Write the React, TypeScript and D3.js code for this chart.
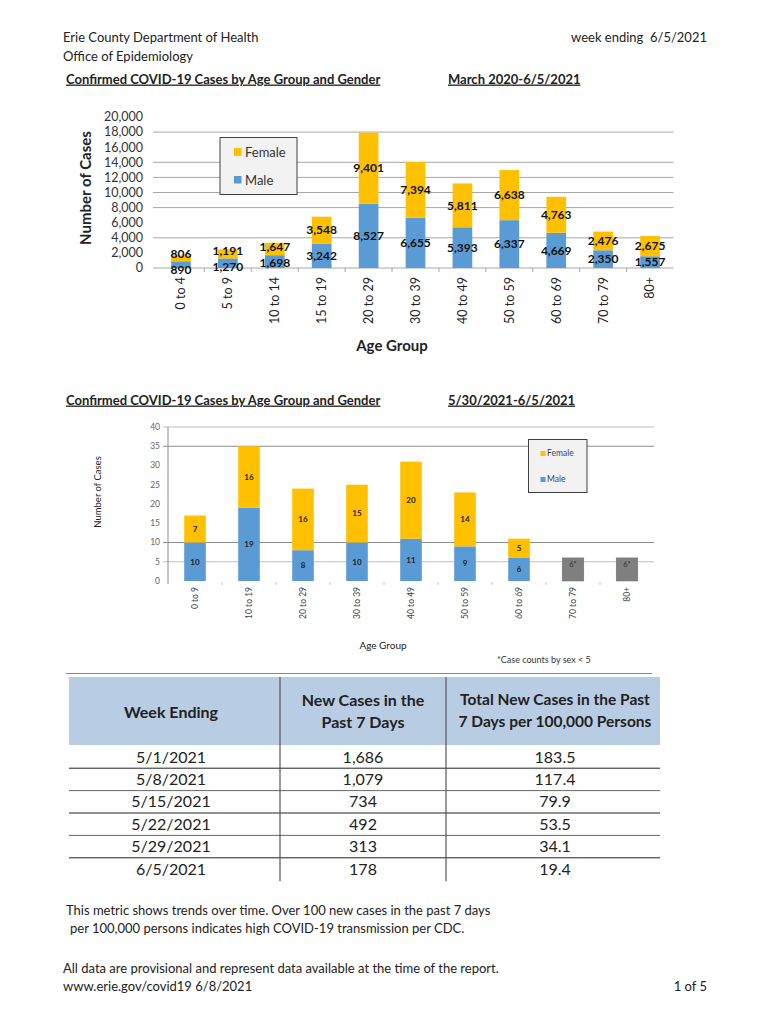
import React from 'react';
import * as d3 from 'd3';

// ---------- Data ----------
const ageGroupsAll = ['0 to 4', '5 to 9', '10 to 14', '15 to 19', '20 to 29', '30 to 39', '40 to 49', '50 to 59', '60 to 69', '70 to 79', '80+'];
const maleAll = [890, 1270, 1698, 3242, 8527, 6655, 5393, 6337, 4669, 2350, 1557];
const femaleAll = [806, 1191, 1647, 3548, 9401, 7394, 5811, 6638, 4763, 2476, 2675];
const yTicksAll = [0, 2000, 4000, 6000, 8000, 10000, 12000, 14000, 16000, 18000, 20000];
const gridAll = [4000, 8000, 10000, 12000, 14000, 18000];

const ageGroupsWeek = ['0 to 9', '10 to 19', '20 to 29', '30 to 39', '40 to 49', '50 to 59', '60 to 69', '70 to 79', '80+'];
const maleWeek = [10, 19, 8, 10, 11, 9, 6, null, null];
const femaleWeek = [7, 16, 16, 15, 20, 14, 5, null, null];
const suppressedWeek = [null, null, null, null, null, null, null, 6, 6];
const yTicksWeek = [0, 5, 10, 15, 20, 25, 30, 35, 40];
const gridWeek = [5, 10, 35, 40];

const weekEnding = ['5/1/2021', '5/8/2021', '5/15/2021', '5/22/2021', '5/29/2021', '6/5/2021'];
const newCases = ['1,686', '1,079', '734', '492', '313', '178'];
const ratePer100k = ['183.5', '117.4', '79.9', '53.5', '34.1', '19.4'];

const FEMALE = '#FFC000';
const MALE = '#5B9BD5';
const GRAY = '#7F7F7F';
const FONT = 'Lato, "Open Sans", "Liberation Sans", sans-serif';
const fmt = d3.format(',');

function TopChart() {
  const x = d3.scaleBand<string>().domain(ageGroupsAll).range([157.5, 673.5]).paddingInner(0.58).paddingOuter(0.29);
  const y = d3.scaleLinear().domain([0, 20000]).range([268, 117]);
  const bw = x.bandwidth();
  const step = x.step();
  return (
    <g>
      {gridAll.map((g) => (
        <line key={'g' + g} x1={153} x2={673.5} y1={y(g)} y2={y(g)} stroke="#A6A6A6" strokeWidth={1} />
      ))}
      <line x1={153} x2={673.5} y1={y(0)} y2={y(0)} stroke="#A6A6A6" strokeWidth={1} />
      {ageGroupsAll.slice(1).map((a) => (
        <line key={'t' + a} x1={x(a)! - (step - bw) / 2} x2={x(a)! - (step - bw) / 2} y1={y(0)} y2={y(0) + 4} stroke="#A6A6A6" />
      ))}
      {yTicksAll.map((t) => (
        <text key={'yt' + t} x={143} y={y(t)} dy="0.35em" textAnchor="end" fontSize={12.5} fill="#333" fontFamily={FONT}>
          {fmt(t)}
        </text>
      ))}
      {ageGroupsAll.map((a, i) => {
        const x0 = x(a)!;
        const m = maleAll[i];
        const f = femaleAll[i];
        let yM = (y(0) + y(m)) / 2;
        let yF = (y(m) + y(m + f)) / 2;
        if (yM - yF < 16) {
          const mid = (yM + yF) / 2;
          yM = mid + 8;
          yF = mid - 8;
        }
        const cx = x0 + bw / 2;
        return (
          <g key={a}>
            <rect x={x0} y={y(m)} width={bw} height={y(0) - y(m)} fill={MALE} />
            <rect x={x0} y={y(m + f)} width={bw} height={y(m) - y(m + f)} fill={FEMALE} />
            <text x={cx} y={yF} dy="0.35em" textAnchor="middle" fontSize={12} fontWeight="bold" fill="#111" fontFamily={FONT}>{fmt(f)}</text>
            <text x={cx} y={yM} dy="0.35em" textAnchor="middle" fontSize={12} fontWeight="bold" fill="#111" fontFamily={FONT}>{fmt(m)}</text>
            <text transform={`translate(${cx},${277}) rotate(-90)`} dy="0.35em" textAnchor="end" fontSize={12.5} fill="#222" fontFamily={FONT}>{a}</text>
          </g>
        );
      })}
      <text transform="translate(86,188) rotate(-90)" textAnchor="middle" dy="0.35em" fontSize={15} fontWeight="bold" fill="#222" fontFamily={FONT}>Number of Cases</text>
      <text x={392} y={346} dy="0.35em" textAnchor="middle" fontSize={15} fontWeight="bold" fill="#222" fontFamily={FONT}>Age Group</text>
      <rect x={220} y={137.5} width={77} height={57} fill="#F2F2F2" stroke="#404040" strokeWidth={1} />
      <rect x={234} y={148} width={7.5} height={8} fill={FEMALE} />
      <text x={245} y={152} dy="0.35em" fontSize={13} fill="#333" fontFamily={FONT}>Female</text>
      <rect x={234} y={176} width={7.5} height={7.5} fill={MALE} />
      <text x={245} y={180} dy="0.35em" fontSize={13} fill="#333" fontFamily={FONT}>Male</text>
    </g>
  );
}

function WeekChart() {
  const x = d3.scaleBand<string>().domain(ageGroupsWeek).range([168, 654]).paddingInner(0.6).paddingOuter(0.3);
  const y = d3.scaleLinear().domain([0, 40]).range([581, 427]);
  const bw = x.bandwidth();
  const step = x.step();
  return (
    <g>
      {gridWeek.map((g) => (
        <line key={'g' + g} x1={163} x2={654} y1={y(g)} y2={y(g)} stroke={g === 40 || g === 5 ? '#BFBFBF' : '#8C8C8C'} strokeWidth={1} />
      ))}
      <line x1={168} x2={168} y1={427} y2={584} stroke="#8C8C8C" />
      {ageGroupsWeek.slice(1).map((a) => (
        <line key={'t' + a} x1={x(a)! - (step - bw) / 2} x2={x(a)! - (step - bw) / 2} y1={y(0) + 1} y2={y(0) + 4} stroke="#BFBFBF" />
      ))}
      {yTicksWeek.map((t) => (
        <text key={'yt' + t} x={160} y={y(t)} dy="0.35em" textAnchor="end" fontSize={8.5} fill="#666" fontFamily={FONT}>{t}</text>
      ))}
      {ageGroupsWeek.map((a, i) => {
        const x0 = x(a)!;
        const cx = x0 + bw / 2;
        const m = maleWeek[i];
        const f = femaleWeek[i];
        const s = suppressedWeek[i];
        return (
          <g key={a}>
            {m != null && f != null && (
              <>
                <rect x={x0} y={y(m)} width={bw} height={y(0) - y(m)} fill={MALE} />
                <rect x={x0} y={y(m + f)} width={bw} height={y(m) - y(m + f)} fill={FEMALE} />
                <text x={cx} y={(y(m) + y(m + f)) / 2} dy="0.35em" textAnchor="middle" fontSize={8} fontWeight="bold" fill="#222" fontFamily={FONT}>{f}</text>
                <text x={cx} y={(y(0) + y(m)) / 2} dy="0.35em" textAnchor="middle" fontSize={8} fontWeight="bold" fill="#222" fontFamily={FONT}>{m}</text>
              </>
            )}
            {s != null && (
              <>
                <rect x={x0} y={y(s)} width={bw} height={y(0) - y(s)} fill={GRAY} stroke="#6F6F6F" strokeWidth={0.5} />
                <text x={cx} y={(y(0) + y(s)) / 2 - 5} dy="0.35em" textAnchor="middle" fontSize={7.5} fill="#333" fontFamily={FONT}>{s + '*'}</text>
              </>
            )}
            <text transform={`translate(${cx},${587}) rotate(-90)`} dy="0.35em" textAnchor="end" fontSize={8.5} fill="#444" fontFamily={FONT}>{a}</text>
          </g>
        );
      })}
      <text transform="translate(98,492) rotate(-90)" textAnchor="middle" dy="0.35em" fontSize={9.5} fill="#222" fontFamily={FONT}>Number of Cases</text>
      <text x={383} y={645} dy="0.35em" textAnchor="middle" fontSize={10} fill="#222" fontFamily={FONT}>Age Group</text>
      <rect x={528.5} y={439.5} width={58.5} height={53} fill="#F2F2F2" stroke="#404040" strokeWidth={1} />
      <rect x={540.5} y={451} width={5} height={5} fill={FEMALE} />
      <text x={547} y={453.5} dy="0.35em" fontSize={8.5} fill="#444" fontFamily={FONT}>Female</text>
      <rect x={540.5} y={477} width={5} height={5} fill={MALE} />
      <text x={547} y={479.5} dy="0.35em" fontSize={8.5} fill="#444" fontFamily={FONT}>Male</text>
      <text x={497} y={660} dy="0.35em" fontSize={9} fill="#333" fontFamily={FONT}>*Case counts by sex &lt; 5</text>
    </g>
  );
}

function Table() {
  const cols = [69, 280, 446, 660];
  const centers = [171, 363, 555];
  const rowY = d3.scaleLinear().domain([0, 5]).range([757, 869]);
  const rowStep = rowY(1) - rowY(0);
  return (
    <g fontFamily={FONT}>
      <line x1={66} x2={652} y1={673.5} y2={673.5} stroke="#888" />
      <rect x={cols[0]} y={677} width={cols[3] - cols[0]} height={68} fill="#B8CCE4" />
      <text x={centers[0]} y={712} dy="0.35em" textAnchor="middle" fontSize={16} fontWeight="bold" fill="#222">Week Ending</text>
      <text x={centers[1]} y={700} dy="0.35em" textAnchor="middle" fontSize={16} fontWeight="bold" fill="#222">New Cases in the</text>
      <text x={centers[1]} y={722} dy="0.35em" textAnchor="middle" fontSize={16} fontWeight="bold" fill="#222">Past 7 Days</text>
      <text x={centers[2]} y={700} dy="0.35em" textAnchor="middle" fontSize={15.5} fontWeight="bold" fill="#222">Total New Cases in the Past</text>
      <text x={centers[2]} y={722} dy="0.35em" textAnchor="middle" fontSize={15.5} fontWeight="bold" fill="#222">7 Days per 100,000 Persons</text>
      {weekEnding.slice(1).map((w, i) => {
        const ly = (rowY(i) + rowY(i + 1)) / 2;
        return <line key={'rl' + w} x1={cols[0]} x2={cols[3]} y1={ly} y2={ly} stroke={i % 2 === 0 ? '#222' : '#666'} strokeWidth={1} />;
      })}
      <line x1={cols[1]} x2={cols[1]} y1={677} y2={rowY(5) + rowStep / 2 + 1} stroke="#555" strokeWidth={1.2} />
      <line x1={cols[2]} x2={cols[2]} y1={677} y2={rowY(5) + rowStep / 2 + 1} stroke="#555" strokeWidth={1.2} />
      {weekEnding.map((w, i) => (
        <g key={w}>
          <text x={centers[0]} y={rowY(i)} dy="0.35em" textAnchor="middle" fontSize={16} fill="#222">{w}</text>
          <text x={centers[1]} y={rowY(i)} dy="0.35em" textAnchor="middle" fontSize={16} fill="#222">{newCases[i]}</text>
          <text x={centers[2]} y={rowY(i)} dy="0.35em" textAnchor="middle" fontSize={16} fill="#222">{ratePer100k[i]}</text>
        </g>
      ))}
    </g>
  );
}

export default function App() {
  return (
    <svg width={770} height={1024} style={{ position: 'absolute', left: 0, top: 0, background: '#fff' }} fontFamily={FONT}>
      <rect x={0} y={0} width={770} height={1024} fill="#fff" />
      <text x={63} y={37} dy="0.35em" fontSize={13} fill="#222">Erie County Department of Health</text>
      <text x={63} y={56} dy="0.35em" fontSize={13} fill="#222">Office of Epidemiology</text>
      <text x={707} y={37} dy="0.35em" textAnchor="end" fontSize={13} fill="#222" style={{ whiteSpace: 'pre' }}>{'week ending  6/5/2021'}</text>
      <text x={66} y={79} dy="0.35em" fontSize={13} fontWeight="bold" fill="#222" textDecoration="underline">Confirmed COVID-19 Cases by Age Group and Gender</text>
      <text x={448} y={79} dy="0.35em" fontSize={13} fontWeight="bold" fill="#222" textDecoration="underline">March 2020-6/5/2021</text>
      <TopChart />
      <text x={66} y={400} dy="0.35em" fontSize={13} fontWeight="bold" fill="#222" textDecoration="underline">Confirmed COVID-19 Cases by Age Group and Gender</text>
      <text x={448} y={400} dy="0.35em" fontSize={13} fontWeight="bold" fill="#222" textDecoration="underline">5/30/2021-6/5/2021</text>
      <WeekChart />
      <Table />
      <text x={66} y={910} dy="0.35em" fontSize={13} fill="#222">This metric shows trends over time. Over 100 new cases in the past 7 days</text>
      <text x={70} y={928} dy="0.35em" fontSize={13} fill="#222">per 100,000 persons indicates high COVID-19 transmission per CDC.</text>
      <text x={63} y={968} dy="0.35em" fontSize={13} fill="#222">All data are provisional and represent data available at the time of the report.</text>
      <text x={63} y={986} dy="0.35em" fontSize={13} fill="#222">www.erie.gov/covid19 6/8/2021</text>
      <text x={707} y={986} dy="0.35em" textAnchor="end" fontSize={13} fill="#222">1 of 5</text>
    </svg>
  );
}
